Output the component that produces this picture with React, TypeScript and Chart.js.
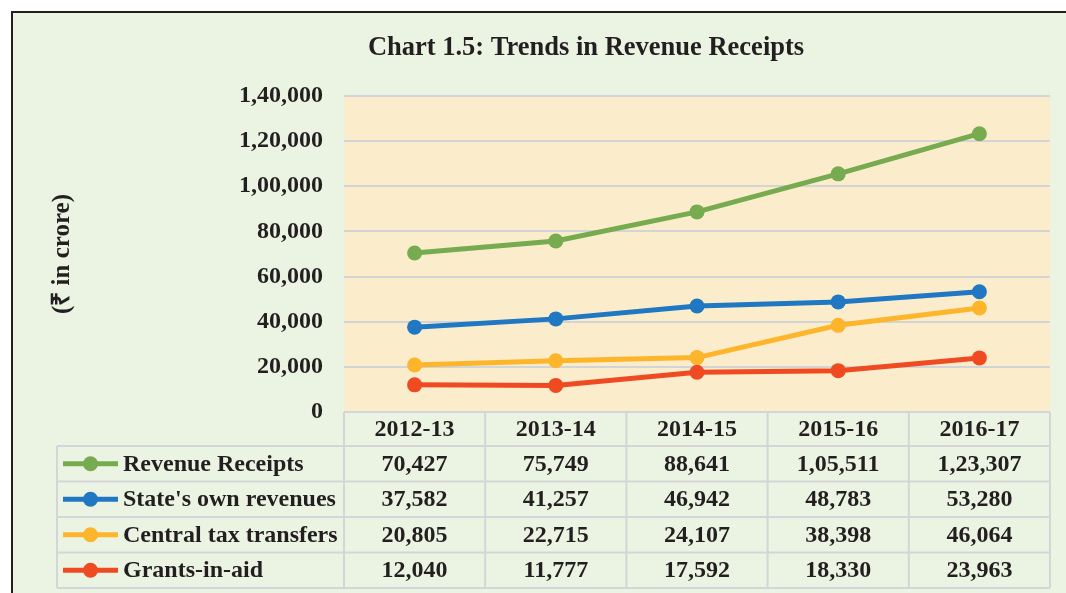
import React, { useEffect, useRef } from "react";
import { Chart, registerables } from "chart.js";

Chart.register(...registerables);

const categories = ["2012-13", "2013-14", "2014-15", "2015-16", "2016-17"];
const revenueReceipts = [70427, 75749, 88641, 105511, 123307];
const stateOwnRevenues = [37582, 41257, 46942, 48783, 53280];
const centralTaxTransfers = [20805, 22715, 24107, 38398, 46064];
const grantsInAid = [12040, 11777, 17592, 18330, 23963];
const seriesNames = ["Revenue Receipts", "State's own revenues", "Central tax transfers", "Grants-in-aid"];
const seriesColors = ["#77AB4F", "#1F78C1", "#FDB52B", "#F04A23"];
const yMin = 0;
const yMax = 140000;
const yStep = 20000;
const chartTitle = "Chart 1.5: Trends in Revenue Receipts";
const yAxisTitle = "(₹ in crore)";

const FONT = "'Liberation Serif', 'Times New Roman', serif";
const TEXT = "#231F20";

function fmtIN(n: number): string {
  const s = String(Math.round(n));
  if (s.length <= 3) return s;
  const last3 = s.slice(-3);
  const rest = s.slice(0, -3).replace(/\B(?=(\d{2})+(?!\d))/g, ",");
  return rest + "," + last3;
}

const framePlugin = {
  id: "frame",
  beforeDraw(chart: any) {
    const { ctx, width, height, chartArea } = chart;
    ctx.save();
    ctx.fillStyle = "#FFFFFF";
    ctx.fillRect(0, 0, width, height);
    ctx.fillStyle = "#EBF4E2";
    ctx.fillRect(12, 12, width - 12, height - 12);
    ctx.strokeStyle = TEXT;
    ctx.lineWidth = 2;
    ctx.beginPath();
    ctx.moveTo(12, height);
    ctx.lineTo(12, 12);
    ctx.lineTo(width, 12);
    ctx.stroke();
    ctx.fillStyle = "#FBEDCB";
    ctx.fillRect(chartArea.left, chartArea.top, chartArea.right - chartArea.left, chartArea.bottom - chartArea.top);
    ctx.restore();
  },
  afterDraw(chart: any) {
    const { ctx, chartArea } = chart;
    const xs = chart.scales.x;
    ctx.save();
    // title
    ctx.fillStyle = TEXT;
    ctx.font = `bold 26.5px ${FONT}`;
    ctx.textAlign = "center";
    ctx.textBaseline = "middle";
    ctx.fillText(chartTitle, 586, 48);

    // data table
    const n = categories.length;
    const colW = (chartArea.right - chartArea.left) / n;
    const top = chartArea.bottom;
    const headerH = 34;
    const rowH = 35.5;
    const legendLeft = 57;
    const rows = chart.data.datasets.length;
    const bottom = top + headerH + rowH * rows;
    ctx.strokeStyle = "#D3D5D8";
    ctx.lineWidth = 2;
    ctx.beginPath();
    ctx.moveTo(chartArea.left, top);
    ctx.lineTo(chartArea.right, top);
    for (let r = 0; r <= rows; r++) {
      const y = top + headerH + r * rowH;
      ctx.moveTo(legendLeft, y);
      ctx.lineTo(chartArea.right, y);
    }
    ctx.moveTo(legendLeft, top + headerH);
    ctx.lineTo(legendLeft, bottom);
    for (let c = 0; c <= n; c++) {
      const x = chartArea.left + c * colW;
      ctx.moveTo(x, top);
      ctx.lineTo(x, bottom);
    }
    ctx.stroke();

    ctx.fillStyle = TEXT;
    ctx.font = `bold 24px ${FONT}`;
    ctx.textAlign = "center";
    ctx.textBaseline = "middle";
    categories.forEach((cat, i) => {
      ctx.fillText(cat, xs.getPixelForValue(i), top + headerH / 2 + 1);
    });
    chart.data.datasets.forEach((ds: any, r: number) => {
      const cy = top + headerH + r * rowH + rowH / 2 + 1;
      // legend sample
      ctx.strokeStyle = ds.borderColor;
      ctx.lineWidth = 5;
      ctx.beginPath();
      ctx.moveTo(63, cy - 1);
      ctx.lineTo(118, cy - 1);
      ctx.stroke();
      ctx.fillStyle = ds.borderColor;
      ctx.beginPath();
      ctx.arc(90.5, cy - 1, 7.5, 0, Math.PI * 2);
      ctx.fill();
      ctx.fillStyle = TEXT;
      ctx.textAlign = "left";
      ctx.fillText(ds.label, 123, cy);
      ctx.textAlign = "center";
      ds.data.forEach((v: number, i: number) => {
        ctx.fillText(fmtIN(v), xs.getPixelForValue(i), cy);
      });
    });
    ctx.restore();
  },
};

export default function App() {
  const ref = useRef<HTMLCanvasElement | null>(null);
  useEffect(() => {
    document.body.style.margin = "0";
    const canvas = ref.current!;
    const values = [revenueReceipts, stateOwnRevenues, centralTaxTransfers, grantsInAid];
    const chart = new Chart(canvas, {
      type: "line",
      data: {
        labels: categories,
        datasets: values.map((d, i) => ({
          label: seriesNames[i],
          data: d,
          borderColor: seriesColors[i],
          backgroundColor: seriesColors[i],
          pointBackgroundColor: seriesColors[i],
          pointBorderWidth: 0,
          pointRadius: 7.5,
          borderWidth: 5,
          tension: 0,
          fill: false,
        })),
      },
      options: {
        responsive: false,
        animation: false,
        devicePixelRatio: 1,
        layout: { padding: { top: 96, right: 16, left: 0, bottom: 0 } },
        plugins: {
          legend: { display: false },
          title: { display: false },
          tooltip: { enabled: false },
        },
        scales: {
          x: {
            type: "category",
            offset: true,
            grid: { display: false, drawTicks: false },
            border: { display: false },
            ticks: { display: false },
            afterFit(scale: any) {
              scale.height = 181;
            },
          },
          y: {
            min: yMin,
            max: yMax,
            border: { display: false },
            grid: { color: "#D2D4D6", lineWidth: 2, drawTicks: false },
            ticks: {
              stepSize: yStep,
              padding: 21,
              color: TEXT,
              font: { family: FONT, size: 24, weight: "bold" },
              callback: (v: any) => fmtIN(Number(v)),
            },
            title: {
              display: true,
              text: yAxisTitle,
              color: TEXT,
              font: { family: FONT, size: 25, weight: "bold" },
              padding: { top: 48, bottom: 0 },
            },
            afterFit(scale: any) {
              scale.width = 344;
            },
          },
        },
      },
      plugins: [framePlugin],
    } as any);
    return () => chart.destroy();
  }, []);
  return (
    <div style={{ width: 1066, height: 593 }}>
      <canvas ref={ref} width={1066} height={593} style={{ display: "block" }} />
    </div>
  );
}
